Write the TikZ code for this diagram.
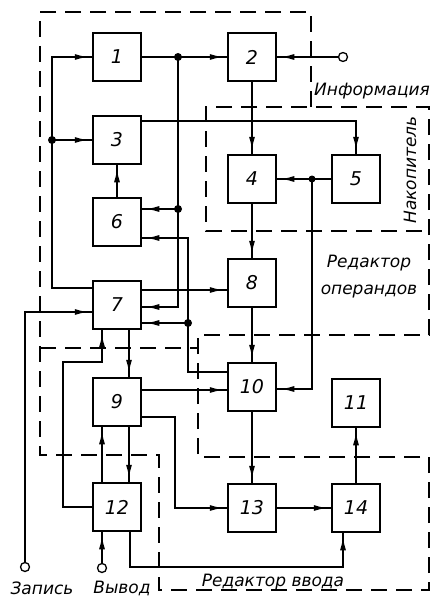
\documentclass[tikz,border=0pt]{standalone}
\usepackage{fontspec}
\setmainfont{DejaVu Sans}[ItalicFont={DejaVu Sans Oblique}]
\usetikzlibrary{arrows.meta,decorations.markings,calc}
\begin{document}
\begin{tikzpicture}[x=1pt,y=-1pt,
  box/.style={draw,line width=2.4pt,minimum width=48.5pt,minimum height=48.5pt,inner sep=0pt,outer sep=0pt,font=\fontsize{19}{19}\selectfont\itshape},
  ln/.style={line width=1.3pt},
  arr/.style={ln,postaction={decorate},decoration={markings,mark=at position -5pt with {\arrow{Latex[length=13pt,width=6pt]}}}},
  dashbox/.style={line width=1.5pt,dash pattern=on 16pt off 9pt},
  jdot/.style={circle,fill,inner sep=0pt,minimum size=8pt},
  term/.style={circle,draw,line width=1.3pt,fill=white,inner sep=0pt,minimum size=9pt},
  lbl/.style={font=\fontsize{17}{20}\selectfont\itshape,inner sep=0pt}]
\useasboundingbox (0,0) rectangle (432,599);
\fill[white] (0,0) rectangle (432,599);

% dashed regions
\draw[dashbox] (311,107) -- (311,12) -- (40,12) -- (40,455) -- (159,455) -- (159,590) -- (429,590) -- (429,457) -- (198,457) -- (198,335) -- (429,335) -- (429,107) -- (206,107) -- (206,231) -- (429,231);
\draw[dashbox] (40,348) -- (198,348);

% boxes
\node[box] (b1) at (117,57) {1};
\node[box] (b2) at (252,57) {2};
\node[box] (b3) at (117,140) {3};
\node[box] (b4) at (252,179) {4};
\node[box] (b5) at (356,179) {5};
\node[box] (b6) at (117,222) {6};
\node[box] (b7) at (117,305) {7};
\node[box] (b8) at (252,283) {8};
\node[box] (b9) at (117,402) {9};
\node[box] (b10) at (252,387) {10};
\node[box] (b11) at (356,403) {11};
\node[box] (b12) at (117,507) {12};
\node[box] (b13) at (252,508) {13};
\node[box] (b14) at (356,508) {14};

% junctions and terminals
\node[jdot] (jA) at (178,57) {};
\node[jdot] (jB) at (178,209) {};
\node[jdot] (jC) at (188,323) {};
\node[jdot] (jD) at (52,140) {};
\node[jdot,minimum size=7pt] (jE) at (312,179) {};
\node[term] (tI) at (343,57) {};
\node[term] (tZ) at (25,567) {};
\node[term] (tV) at (102,568) {};

\coordinate (c35) at (356,121);
\coordinate (c7a) at (52,288);
\coordinate (c7z) at (25,312);
\coordinate (c7b) at (178,307);
\coordinate (c10a) at (188,372);
\coordinate (c6b) at (188,238);
\coordinate (c78) at (200,290);
\coordinate (c510) at (312,389);
\coordinate (v129) at (129,0);
\coordinate (c127a) at (63,362);
\coordinate (c127b) at (102,362);
\coordinate (c910) at (200,390);
\coordinate (c913) at (175,417);
\coordinate (c1214a) at (130,567);
\coordinate (c1214b) at (343,567);

% connectors
\draw[ln] (b1.east) -- (jA.center);
\draw[arr] (jA.center) -- (b2.west);
\draw[arr] (tI.west) -- (b2.east);
\draw[arr] (b2.south) -- (b4.north);
\draw[arr] (b3.east |- c35) -- (c35) -- (b5.north);
\draw[ln] (b7.west |- c7a) -- (c7a) -- (jD.center);
\draw[arr] (jD.center) -- (b3.west);
\draw[arr] (jD.center) -- (jD |- b1) -- (b1.west);
\draw[arr] (tZ.north) -- (c7z) -- (b7.west |- c7z);
\draw[arr] (b6.north) -- (b3.south);
\draw[ln] (jA.center) -- (jB.center);
\draw[arr] (jB.center) -- (b6.east |- jB);
\draw[arr] (jB.center) -- (c7b) -- (b7.east |- c7b);
\draw[ln] (b10.west |- c10a) -- (c10a) -- (jC.center);
\draw[arr] (jC.center) -- (b7.east |- jC);
\draw[arr] (jC.center) -- (c6b) -- (b6.east |- c6b);
\draw[arr] (b7.east |- c78) -- (b8.west |- c78);
\draw[arr] (b4.south) -- (b8.north);
\draw[arr] (b8.south) -- (b10.north);
\draw[ln] (b5.west) -- (jE.center);
\draw[arr] (jE.center) -- (b4.east);
\draw[arr] (jE.center) -- (c510) -- (b10.east |- c510);
\draw[arr] (b7.south -| v129) -- (b9.north -| v129);
\draw[arr] (b12.west) -- (b12.west -| c127a) -- (c127a) -- (c127b) -- (b7.south -| c127b);
\draw[arr] (b12.north -| c127b) -- (b9.south -| c127b);
\draw[arr] (b9.south -| v129) -- (b12.north -| v129);
\draw[arr] (b9.east |- c910) -- (b10.west |- c910);
\draw[arr] (b9.east |- c913) -- (c913) -- (c913 |- b13) -- (b13.west);
\draw[arr] (b10.south) -- (b13.north);
\draw[arr] (b13.east) -- (b14.west);
\draw[arr] (b14.north) -- (b11.south);
\draw[arr] (b12.south -| c1214a) -- (c1214a) -- (c1214b) -- (b14.south -| c1214b);
\draw[arr] (tV.north) -- (b12.south -| tV);

% labels
\node[lbl,anchor=west] (lInfo) at (314,91) {Информация};
\node[lbl,rotate=90] (lNak) at (410,170) {Накопитель};
\node[lbl] (lRO1) at (369,263) {Редактор};
\node[lbl] (lRO2) at (369,292) {операндов};
\node[lbl] (lRV) at (273,582) {Редактор ввода};
\node[lbl] (lZap) at (42,588) {Запись};
\node[lbl] (lVyv) at (122,588) {Вывод};
\end{tikzpicture}
\end{document}
